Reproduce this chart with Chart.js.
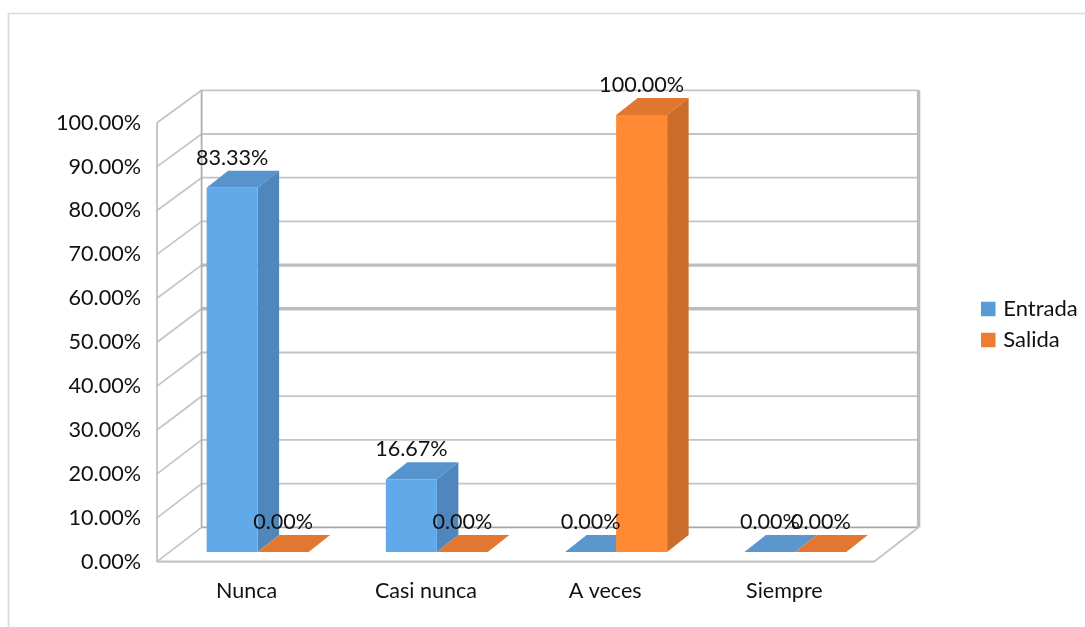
<!DOCTYPE html>
<html>
<head>
<meta charset="utf-8">
<style>
  html, body { margin: 0; padding: 0; background: #fff; }
  #wrap { position: relative; width: 1085px; height: 627px; }
  canvas { display: block; }
</style>
<script src="https://cdn.jsdelivr.net/npm/chart.js@4/dist/chart.umd.min.js"></script>
</head>
<body>
<div id="wrap"><canvas id="chart" width="1085" height="627"></canvas></div>
<script>
const categories = ['Nunca', 'Casi nunca', 'A veces', 'Siempre'];
const entrada = [83.33, 16.67, 0, 0];
const salida = [0, 0, 100, 0];
const axisTicks = [0, 10, 20, 30, 40, 50, 60, 70, 80, 90, 100];

const FONT = 'Lato, "Noto Sans", sans-serif';
const PLOT = { left: 157, right: 874, top: 122.7, bottom: 561.7 };
const GRID = '#c4c4c4';

// Depth of the floor: the rear wall sits up and to the right of the front plane.
const WALL_DX = 44.6, WALL_DY = -34.4, WALL_SCALE = 437 / 439;
// Bars stand between these fractions of the floor depth.
const BAR_NEAR = { dx: 11, dy: -9.7 };
const BAR_DEPTH = { dx: 21.5, dy: -17 };

const FACES = [
  { front: '#62a9ea', top: '#5793cc', side: '#4f86bb', flat: '#5b96cd', swatch: '#5b9bd5' },
  { front: '#ff8a33', top: '#e0772f', side: '#cb6c2b', flat: '#e2782f', swatch: '#ed7d31' }
];

// Applies the mid-floor offset to a pixel.
function barY(scale, px) {
  const zero = scale.getPixelForValue(0);
  return zero + BAR_NEAR.dy + (px - zero) * WALL_SCALE;
}

function poly(ctx, pts, fill) {
  ctx.beginPath();
  pts.forEach((p, i) => i ? ctx.lineTo(p[0], p[1]) : ctx.moveTo(p[0], p[1]));
  ctx.closePath();
  ctx.fillStyle = fill;
  ctx.fill();
}

function segment(ctx, x0, y0, x1, y1, color, width) {
  ctx.strokeStyle = color;
  ctx.lineWidth = width;
  ctx.beginPath();
  ctx.moveTo(x0, y0);
  ctx.lineTo(x1, y1);
  ctx.stroke();
}

const walls = {
  id: 'walls',
  beforeDatasetsDraw(chart) {
    const { ctx, scales: { y } } = chart;
    const zero = y.getPixelForValue(0);
    const wallY = v => zero + WALL_DY + (y.getPixelForValue(v) - zero) * WALL_SCALE;
    const backL = PLOT.left + WALL_DX, backR = PLOT.right + WALL_DX;
    ctx.save();
    ctx.lineCap = 'butt';
    axisTicks.forEach(v => {
      // Side-wall rung, then the rear-wall gridline.
      segment(ctx, PLOT.left, y.getPixelForValue(v), backL, wallY(v), GRID, 1.7);
      const heavy = v === 50 || v === 60;
      const color = v === 0 ? '#a8a8a8' : (heavy ? '#bdbdbd' : GRID);
      segment(ctx, backL, wallY(v), backR, wallY(v), color, heavy ? 3.4 : 1.8);
    });
    // Front edge of the floor and the three vertical wall edges.
    segment(ctx, PLOT.left, zero, PLOT.right, zero, GRID, 2.2);
    segment(ctx, PLOT.right, zero, backR, wallY(0), GRID, 1.8);
    segment(ctx, PLOT.left, zero, PLOT.left, y.getPixelForValue(100), '#bdbdbd', 1.7);
    segment(ctx, backL, wallY(0), backL, wallY(100), '#b0b0b0', 1.8);
    segment(ctx, backR, wallY(0), backR, wallY(100), '#bcbcbc', 3.4);
    ctx.restore();

    // Top and side faces of every bar; the library paints the front faces next.
    chart.data.datasets.forEach((ds, i) => {
      chart.getDatasetMeta(i).data.forEach((bar, j) => {
        const { x, y: py, width } = bar.getProps(['x', 'y', 'width'], true);
        const l = x - width / 2 + BAR_NEAR.dx, r = x + width / 2 + BAR_NEAR.dx;
        const t = barY(y, py), b = zero + BAR_NEAR.dy;
        const d = BAR_DEPTH;
        const flat = ds.data[j] === 0;
        poly(ctx, [[l, t], [r, t], [r + d.dx, t + d.dy], [l + d.dx, t + d.dy]], flat ? FACES[i].flat : FACES[i].top);
        if (!flat) poly(ctx, [[r, t], [r + d.dx, t + d.dy], [r + d.dx, b + d.dy], [r, b]], FACES[i].side);
      });
    });

    // Front faces stand on the same floor offset as the faces above.
    ctx.save();
    ctx.translate(BAR_NEAR.dx, zero + BAR_NEAR.dy);
    ctx.scale(1, WALL_SCALE);
    ctx.translate(0, -zero);
  },
  afterDatasetsDraw(chart) {
    const { ctx, scales: { y } } = chart;
    ctx.restore();
    // Value labels above each bar.
    ctx.save();
    ctx.font = '21.6px ' + FONT;
    ctx.fillStyle = '#111';
    ctx.textAlign = 'center';
    ctx.textBaseline = 'middle';
    chart.data.datasets.forEach((ds, i) => {
      chart.getDatasetMeta(i).data.forEach((bar, j) => {
        const { x, y: py } = bar.getProps(['x', 'y'], true);
        ctx.fillText(ds.data[j].toFixed(2) + '%', x + BAR_NEAR.dx, barY(y, py) - 30);
      });
    });
    ctx.restore();
  },
  // Places the legend block beside the plot, level with the upper half of the walls.
  afterLayout(chart) {
    const lg = chart.legend;
    if (!lg) return;
    const dx = 984.25 - 9 - lg.left, dy = 324.5 - (lg.top + lg.bottom) / 2;
    lg.left += dx; lg.right += dx; lg.top += dy; lg.bottom += dy;
  }
};

// Outer frame of the chart object, open on the right and at the bottom.
const frame = {
  id: 'frame',
  beforeDraw({ ctx }) {
    ctx.save();
    ctx.strokeStyle = '#d9d9d9';
    ctx.lineWidth = 1.6;
    ctx.beginPath();
    ctx.moveTo(8.5, 627);
    ctx.lineTo(8.5, 13.5);
    ctx.lineTo(1085, 13.5);
    ctx.stroke();
    ctx.restore();
  }
};

const chart = new Chart(document.getElementById('chart'), {
  type: 'bar',
  data: {
    labels: categories,
    datasets: [
      { label: 'Entrada', data: entrada, backgroundColor: FACES[0].front },
      { label: 'Salida', data: salida, backgroundColor: FACES[1].front }
    ]
  },
  plugins: [frame, walls],
  options: {
    responsive: false,
    animation: false,
    layout: { padding: { left: 0, top: PLOT.top, right: 100, bottom: 0 } },
    datasets: { bar: { categoryPercentage: 0.569, barPercentage: 1 } },
    plugins: {
      tooltip: { enabled: false },
      legend: {
        position: 'right',
        labels: {
          // A small box with a wide same-colour outline keeps the label close to the swatch.
          boxWidth: 8,
          boxHeight: 8,
          padding: 9,
          color: '#111',
          font: { family: FONT, size: 22 },
          generateLabels: c => c.data.datasets.map((ds, i) => ({
            text: ds.label,
            fillStyle: FACES[i].swatch,
            strokeStyle: FACES[i].swatch,
            lineWidth: 6.5,
            fontColor: '#111',
            datasetIndex: i
          }))
        }
      }
    },
    scales: {
      x: {
        grid: { display: false },
        border: { display: false },
        ticks: { color: '#111', font: { family: FONT, size: 21.5 }, padding: 8, maxRotation: 0 },
        afterFit: s => { s.height = 627 - PLOT.bottom; }
      },
      y: {
        min: 0,
        max: 100,
        afterBuildTicks: s => { s.ticks = axisTicks.map(value => ({ value })); },
        grid: { display: false },
        border: { display: false },
        ticks: {
          color: '#111',
          font: { family: FONT, size: 21.6 },
          padding: 8,
          callback: v => v.toFixed(2) + '%'
        },
        afterFit: s => { s.width = PLOT.left; }
      }
    }
  }
});

// Trim the right padding so the plot ends where the legend column begins.
chart.options.layout.padding.right += chart.chartArea.right - PLOT.right;
chart.update();
</script>
</body>
</html>
